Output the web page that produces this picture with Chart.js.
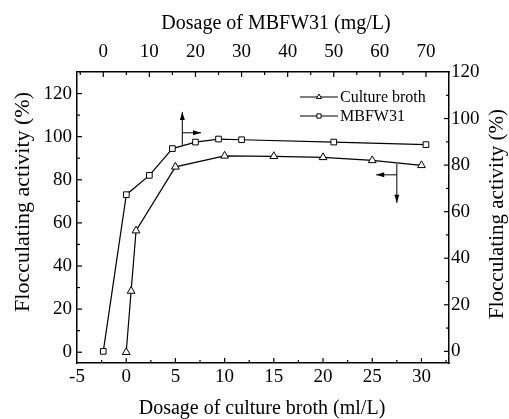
<!DOCTYPE html>
<html>
<head>
<meta charset="utf-8">
<script src="https://cdn.jsdelivr.net/npm/chart.js@4.4.0/dist/chart.umd.min.js"></script>
<style>
  html, body { margin: 0; padding: 0; background: #fff; }
  #wrap { width: 509px; height: 419px; }
</style>
</head>
<body>
<div id="wrap"><canvas id="chart"></canvas></div>
<script>
// culture broth: bottom x axis (ml/L), left y axis
const brothDose     = [0, 0.5, 1, 5, 10, 15, 20, 25, 30];
const brothActivity = [0, 28.4, 56.4, 86.0, 91.1, 90.9, 90.4, 89.0, 86.7];
// MBFW31: top x axis (mg/L), right y axis
const mbfwDose      = [0, 5, 10, 15, 20, 25, 30, 50, 70];
const mbfwActivity  = [0, 67.3, 75.6, 87.1, 89.9, 91.2, 90.9, 89.9, 88.8];

const bottomTicks = [-5, 0, 5, 10, 15, 20, 25, 30];
const topTicks    = [0, 10, 20, 30, 40, 50, 60, 70];
const leftTicks   = [0, 20, 40, 60, 80, 100, 120];
const rightTicks  = [0, 20, 40, 60, 80, 100, 120];

const FONT = "'Liberation Serif', 'Times New Roman', serif";

// inward ticks (major + minor halfway), Origin style
const inTicks = {
  id: 'inTicks',
  afterDraw(chart) {
    const ctx = chart.ctx, a = chart.chartArea;
    ctx.save();
    ctx.strokeStyle = '#000';
    ctx.lineWidth = 1.2;
    const todo = [['x', bottomTicks], ['x2', topTicks], ['y', leftTicks], ['y2', rightTicks]];
    todo.forEach(([id, ticks]) => {
      const s = chart.scales[id];
      const step = (ticks[1] - ticks[0]) / 2;
      const start = Math.ceil(s.min / step) * step;
      for (let v = start; v <= s.max + 1e-9; v += step) {
        const major = Math.abs(Math.round(v / (step * 2)) * step * 2 - v) < 1e-6;
        const len = major ? 5 : 3;
        const p = s.getPixelForValue(v);
        ctx.beginPath();
        if (id === 'x')  { if (p < a.left + 1 || p > a.right - 1) continue; ctx.moveTo(p, a.bottom); ctx.lineTo(p, a.bottom - len); }
        if (id === 'x2') { if (p < a.left + 1 || p > a.right - 1) continue; ctx.moveTo(p, a.top); ctx.lineTo(p, a.top + len); }
        if (id === 'y')  { if (p < a.top + 1 || p > a.bottom - 1) continue; ctx.moveTo(a.left, p); ctx.lineTo(a.left + len, p); }
        if (id === 'y2') { if (p < a.top + 1 || p > a.bottom - 1) continue; ctx.moveTo(a.right, p); ctx.lineTo(a.right - len, p); }
        ctx.stroke();
      }
    });
    ctx.restore();
  }
};

// axis titles; both vertical ones read bottom-to-top like the original
const titles = {
  id: 'titles',
  afterDraw(chart) {
    const ctx = chart.ctx;
    ctx.save();
    ctx.fillStyle = '#000';
    ctx.textAlign = 'center';
    ctx.textBaseline = 'middle';
    ctx.font = '20px ' + FONT;
    ctx.fillText('Dosage of MBFW31 (mg/L)', 276, 24);
    ctx.fillText('Dosage of culture broth (ml/L)', 262, 409);
    ctx.font = '22px ' + FONT;
    ctx.translate(23, 202); ctx.rotate(-Math.PI / 2);
    ctx.fillText('Flocculating activity (%)', 0, 0);
    ctx.restore();
    ctx.save();
    ctx.fillStyle = '#000';
    ctx.textAlign = 'center';
    ctx.textBaseline = 'middle';
    ctx.font = '21px ' + FONT;
    ctx.translate(497, 214); ctx.rotate(-Math.PI / 2);
    ctx.fillText('Flocculating activity (%)', 0, 0);
    ctx.restore();
  }
};

// arrows showing which axes each curve belongs to (in bottom/left data units)
const arrows = {
  id: 'arrows',
  afterDatasetsDraw(chart) {
    const ctx = chart.ctx, x = chart.scales.x, y = chart.scales.y;
    const X = v => x.getPixelForValue(v), Y = v => y.getPixelForValue(v);
    function arrow(x0, y0, x1, y1) {
      ctx.beginPath(); ctx.moveTo(x0, y0); ctx.lineTo(x1, y1); ctx.stroke();
      const ang = Math.atan2(y1 - y0, x1 - x0), L = 8, W = 2.5;
      ctx.beginPath();
      ctx.moveTo(x1, y1);
      ctx.lineTo(x1 - L * Math.cos(ang) + W * Math.sin(ang), y1 - L * Math.sin(ang) - W * Math.cos(ang));
      ctx.lineTo(x1 - L * Math.cos(ang) - W * Math.sin(ang), y1 - L * Math.sin(ang) + W * Math.cos(ang));
      ctx.closePath(); ctx.fill();
    }
    ctx.save();
    ctx.strokeStyle = '#000'; ctx.fillStyle = '#000'; ctx.lineWidth = 1;
    // MBFW31 -> up (top axis) and right (right axis)
    arrow(X(5.7), Y(96.1), X(5.7), Y(111.5));
    arrow(X(5.7), Y(101.8), X(7.6), Y(101.8));
    // culture broth -> down (bottom axis) and left (left axis)
    arrow(X(27.5), Y(87.3), X(27.5), Y(69.3));
    arrow(X(27.5), Y(82.3), X(25.4), Y(82.3));
    ctx.restore();
  }
};

// legend inside the plot, top right
const legendBox = {
  id: 'legendBox',
  afterDraw(chart) {
    const ctx = chart.ctx;
    ctx.save();
    ctx.font = '16px ' + FONT;
    ctx.textBaseline = 'middle';
    chart.data.datasets.forEach((ds, i) => {
      const yy = 97 + i * 19, x0 = 300, x1 = 338, xm = (x0 + x1) / 2;
      ctx.strokeStyle = '#000'; ctx.lineWidth = 1.2;
      ctx.beginPath(); ctx.moveTo(x0, yy); ctx.lineTo(x1, yy); ctx.stroke();
      ctx.fillStyle = '#fff'; ctx.lineWidth = 1;
      Chart.helpers.drawPoint(ctx, { pointStyle: ds.pointStyle, radius: 3, borderWidth: 1 }, xm, yy);
      ctx.fillStyle = '#000';
      ctx.fillText(ds.label, 340, yy + 1);
    });
    ctx.restore();
  }
};

function axis(pos, min, max, ticks, size, pad) {
  const horiz = pos === 'top' || pos === 'bottom';
  return {
    type: 'linear', position: pos, min, max,
    afterBuildTicks: s => { s.ticks = ticks.map(v => ({ value: v })); },
    afterFit: s => { if (horiz) s.height = size; else s.width = size; },
    grid: { display: false, drawTicks: false },
    border: { display: true, color: '#000', width: 1.5 },
    ticks: { color: '#000', padding: pad, font: { family: FONT, size: 19 }, maxRotation: 0, autoSkip: false },
    title: { display: false }
  };
}

new Chart(document.getElementById('chart'), {
  type: 'line',
  data: {
    datasets: [
      {
        label: 'Culture broth',
        data: brothDose.map((d, i) => ({ x: d, y: brothActivity[i] })),
        xAxisID: 'x', yAxisID: 'y',
        borderColor: '#000', borderWidth: 1.2,
        pointStyle: 'triangle', pointRadius: 4.5,
        pointBackgroundColor: '#fff', pointBorderColor: '#000', pointBorderWidth: 1
      },
      {
        label: 'MBFW31',
        data: mbfwDose.map((d, i) => ({ x: d, y: mbfwActivity[i] })),
        xAxisID: 'x2', yAxisID: 'y2',
        borderColor: '#000', borderWidth: 1.2,
        pointStyle: 'rect', pointRadius: 4,
        pointBackgroundColor: '#fff', pointBorderColor: '#000', pointBorderWidth: 1
      }
    ]
  },
  options: {
    responsive: true, maintainAspectRatio: false, animation: false,
    layout: { padding: 0 },
    plugins: { legend: { display: false }, tooltip: { enabled: false } },
    scales: {
      x:  axis('bottom', -5, 32.8, bottomTicks, 56, 3),
      x2: axis('top', -5.7, 75, topTicks, 72, 9),
      y:  axis('left', -5, 130, leftTicks, 77, 5),
      y2: axis('right', -5, 120, rightTicks, 60, 2)
    }
  },
  plugins: [inTicks, titles, arrows, legendBox]
});
</script>
</body>
</html>
